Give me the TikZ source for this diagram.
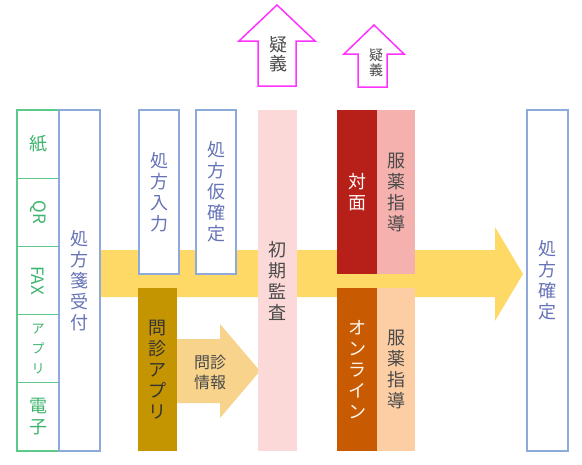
\documentclass[tikz,border=0pt]{standalone}
\usepackage{fontspec}
\setmainfont{Noto Sans CJK JP}
\usetikzlibrary{positioning}
\definecolor{flowgold}{HTML}{FFD966}
\definecolor{infogold}{HTML}{F8D38C}
\definecolor{appgold}{HTML}{C49500}
\definecolor{boxblue}{HTML}{8EAADB}
\definecolor{textblue}{HTML}{6673B8}
\definecolor{srcgreen}{HTML}{5CC98A}
\definecolor{srctext}{HTML}{3DB46D}
\definecolor{auditpink}{HTML}{FBD9D8}
\definecolor{facered}{HTML}{B62019}
\definecolor{facepink}{HTML}{F4B1AD}
\definecolor{onlineorange}{HTML}{C85A02}
\definecolor{onlinepeach}{HTML}{FDCDA4}
\definecolor{inquiry}{HTML}{FF33FF}
\definecolor{darktext}{HTML}{4A4A4A}
\tikzset{
bigjp/.style={font=\fontsize{18}{21}\selectfont, align=center}, % stacked vertical labels
cell/.style={inner sep=0pt, outer sep=0pt, anchor=north west}, % every box is placed by its corner
srccell/.style={cell, bigjp, draw=srcgreen, line width=1.2pt, fill=white, text=srctext, minimum width=42, minimum height=68.2},
stepbox/.style={cell, bigjp, draw=boxblue, line width=1.2pt, fill=white, text=textblue},
slab/.style={cell, bigjp, text=darktext},
inquiryarrow/.style={draw=inquiry, line width=1.5pt, fill=white},
}
\begin{document}
\begin{tikzpicture}[x=1pt, y=-1pt]
\useasboundingbox[fill=white] (0,0) rectangle (582,464);

% main flow arrow behind the boxes
\fill[flowgold] (100,250) -- (495,250) -- (495,227) -- (523,274) -- (495,321) -- (495,297) -- (100,297) -- cycle;
% interview data arrow
\fill[infogold] (177,339) -- (220,339) -- (220,324) -- (260,371) -- (220,418) -- (220,403) -- (177,403) -- cycle;
\node[font=\fontsize{16}{20}\selectfont, align=center, text=darktext] (info) at (210,372) {問診\\情報};

% prescription sources
\node[srccell] (kami) at (17,110) {紙};
\node[srccell, below=0pt of kami] (qr) {};
\node[font=\fontsize{17}{20}\selectfont, text=srctext, rotate=-90] (qrtext) at (qr.center) {QR};
\node[srccell, below=0pt of qr] (fax) {};
\node[font=\fontsize{17}{20}\selectfont, text=srctext, rotate=-90] (faxtext) at (fax.center) {FAX};
\node[srccell, below=0pt of fax, font=\fontsize{13}{20}\selectfont] (app) {ア\\プ\\リ};
\node[srccell, below=0pt of app] (denshi) {電\\子};

\node[stepbox, minimum width=41, minimum height=341] (uketsuke) at (59,110) {処\\方\\箋\\受\\付};
\node[stepbox, minimum width=40, minimum height=164] (nyuryoku) at (139,110) {処\\方\\入\\力};
\node[stepbox, minimum width=40, minimum height=164] (karikakutei) at (196,110) {処\\方\\仮\\確\\定};
\node[slab, fill=appgold, text=black!80, minimum width=39, minimum height=163] (monshin) at (138,288) {問\\診\\ア\\プ\\リ};
\node[slab, fill=auditpink, minimum width=39, minimum height=341] (kansa) at (258,110) {初\\期\\監\\査};

% counselling
\node[slab, fill=facered, text=white!90!pink, minimum width=40, minimum height=164] (taimen) at (337,110) {対\\面};
\node[slab, fill=facepink, minimum width=38, minimum height=164, right=0pt of taimen.north east, anchor=north west] (fukuyaku) {服\\薬\\指\\導};
\node[slab, fill=onlineorange, text=white!92!orange, minimum width=40, minimum height=163] (online) at (337,288) {オ\\ン\\ラ\\イ\\ン};
\node[slab, fill=onlinepeach, minimum width=38, minimum height=163, right=0pt of online.north east, anchor=north west] (fukuyakuol) {服\\薬\\指\\導};

\node[stepbox, minimum width=41, minimum height=341] (kakutei) at (527,110) {処\\方\\確\\定};

% inquiry arrows
\draw[inquiryarrow] (258,86) -- (258,41) -- (239,41) -- (277,5) -- (315,41) -- (296,41) -- (296,86) -- cycle;
\node[font=\fontsize{18}{19}\selectfont, align=center, text=darktext] (gigi) at (278,54) {疑\\義};
\draw[inquiryarrow] (358,87) -- (358,54) -- (344,54) -- (374,25) -- (404,54) -- (387,54) -- (387,87) -- cycle;
\node[font=\fontsize{14}{15}\selectfont, align=center, text=darktext] (gigismall) at (376,63) {疑\\義};
\end{tikzpicture}
\end{document}
